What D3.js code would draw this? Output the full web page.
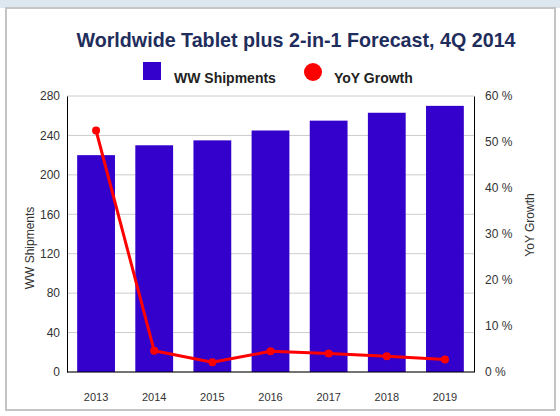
<!DOCTYPE html>
<html lang="en">
<head>
    <meta charset="UTF-8">
    <title>Worldwide Tablet plus 2-in-1 Forecast, 4Q 2014</title>
    <script src="https://d3js.org/d3.v7.min.js"></script>
    <style>
        body {
            margin: 0;
            background: #ffffff;
            font-family: "Liberation Sans", Arial, sans-serif;
        }
        svg { display: block; }
        .tick text { fill: #333; }
    </style>
</head>
<body>
    <svg id="chart" width="560" height="416"></svg>

    <script>
        // chart values
        const years = ["2013", "2014", "2015", "2016", "2017", "2018", "2019"];
        const shipments = [220, 230, 235, 245, 255, 263, 270];
        const growth = [52.5, 4.6, 2.1, 4.5, 4.0, 3.4, 2.7];
        const leftTicks = [0, 40, 80, 120, 160, 200, 240, 280];
        const rightTicks = [0, 10, 20, 30, 40, 50, 60];

        const width = 560, height = 416;
        const margin = {top: 96, right: 86, bottom: 44, left: 67};
        const barColor = "#3300cc", lineColor = "#ff0000";

        const svg = d3.select("#chart");

        // page frame
        svg.append("rect").attr("x", 0).attr("y", 0).attr("width", width).attr("height", 8)
            .attr("fill", "#dde7ef");
        svg.append("rect").attr("x", 6).attr("y", 8).attr("width", 549).attr("height", 402)
            .attr("fill", "#fff").attr("stroke", "#c4c4c4").attr("stroke-width", 2);

        const x = d3.scaleBand()
            .domain(years)
            .range([margin.left, width - margin.right])
            .paddingInner(0.35)
            .paddingOuter(0.175);

        const yLeft = d3.scaleLinear().domain([0, 280]).range([height - margin.bottom, margin.top]);
        const yRight = d3.scaleLinear().domain([0, 60]).range([height - margin.bottom, margin.top]);

        // grid
        svg.append("g")
            .selectAll("line")
            .data(leftTicks)
            .join("line")
            .attr("x1", margin.left)
            .attr("x2", width - margin.right)
            .attr("y1", d => yLeft(d))
            .attr("y2", d => yLeft(d))
            .attr("stroke", "#cccccc")
            .attr("stroke-width", 1);

        // bars
        svg.append("g")
            .selectAll("rect")
            .data(shipments)
            .join("rect")
            .attr("x", (d, i) => x(years[i]))
            .attr("width", x.bandwidth())
            .attr("y", d => yLeft(d))
            .attr("height", d => yLeft(0) - yLeft(d))
            .attr("fill", barColor);

        // axes
        const leftAxis = svg.append("g")
            .attr("transform", `translate(${margin.left},0)`)
            .call(d3.axisLeft(yLeft).tickValues(leftTicks).tickSize(0).tickPadding(7));
        leftAxis.select(".domain").attr("stroke", "#000");
        leftAxis.selectAll("text").style("font-size", "12px").style("font-family", "Liberation Sans, Arial");

        const rightAxis = svg.append("g")
            .attr("transform", `translate(${width - margin.right},0)`)
            .call(d3.axisRight(yRight).tickValues(rightTicks).tickSize(0).tickPadding(11)
                .tickFormat(d => d + " %"));
        rightAxis.select(".domain").attr("stroke", "#000");
        rightAxis.selectAll("text").style("font-size", "12px").style("font-family", "Liberation Sans, Arial");

        const bottomAxis = svg.append("g")
            .attr("transform", `translate(0,${height - margin.bottom})`)
            .call(d3.axisBottom(x).tickSize(0).tickPadding(21));
        bottomAxis.select(".domain").attr("stroke", "#000").attr("d", `M${margin.left},0H${width - margin.right}`);
        bottomAxis.selectAll("text").style("font-size", "11px").style("font-family", "Liberation Sans, Arial");

        // growth line
        const line = d3.line()
            .x((d, i) => x(years[i]) + x.bandwidth() / 2)
            .y(d => yRight(d));

        svg.append("path")
            .datum(growth)
            .attr("d", line)
            .attr("fill", "none")
            .attr("stroke", lineColor)
            .attr("stroke-width", 3)
            .attr("stroke-linejoin", "round");

        svg.append("g")
            .selectAll("circle")
            .data(growth)
            .join("circle")
            .attr("cx", (d, i) => x(years[i]) + x.bandwidth() / 2)
            .attr("cy", d => yRight(d))
            .attr("r", 4)
            .attr("fill", lineColor);

        // axis titles
        svg.append("text")
            .attr("transform", "translate(34,248) rotate(-90)")
            .attr("text-anchor", "middle")
            .style("font-size", "12px")
            .style("fill", "#333")
            .text("WW Shipments");

        svg.append("text")
            .attr("transform", "translate(534,225) rotate(-90)")
            .attr("text-anchor", "middle")
            .style("font-size", "12px")
            .style("fill", "#333")
            .text("YoY Growth");

        // title
        svg.append("text")
            .attr("x", 296)
            .attr("y", 47)
            .attr("text-anchor", "middle")
            .style("font-size", "19.7px")
            .style("font-weight", "bold")
            .style("fill", "#1f2d5c")
            .text("Worldwide Tablet plus 2-in-1 Forecast, 4Q 2014");

        // legend
        const legend = svg.append("g");
        legend.append("rect").attr("x", 143).attr("y", 62).attr("width", 18).attr("height", 18)
            .attr("fill", barColor);
        legend.append("text").attr("x", 174).attr("y", 83)
            .style("font-size", "14px").style("font-weight", "bold").style("fill", "#222").text("WW Shipments");
        legend.append("circle").attr("cx", 313).attr("cy", 72).attr("r", 9)
            .attr("fill", lineColor);
        legend.append("text").attr("x", 334).attr("y", 83)
            .style("font-size", "14px").style("font-weight", "bold").style("fill", "#222").text("YoY Growth");
    </script>
</body>
</html>
